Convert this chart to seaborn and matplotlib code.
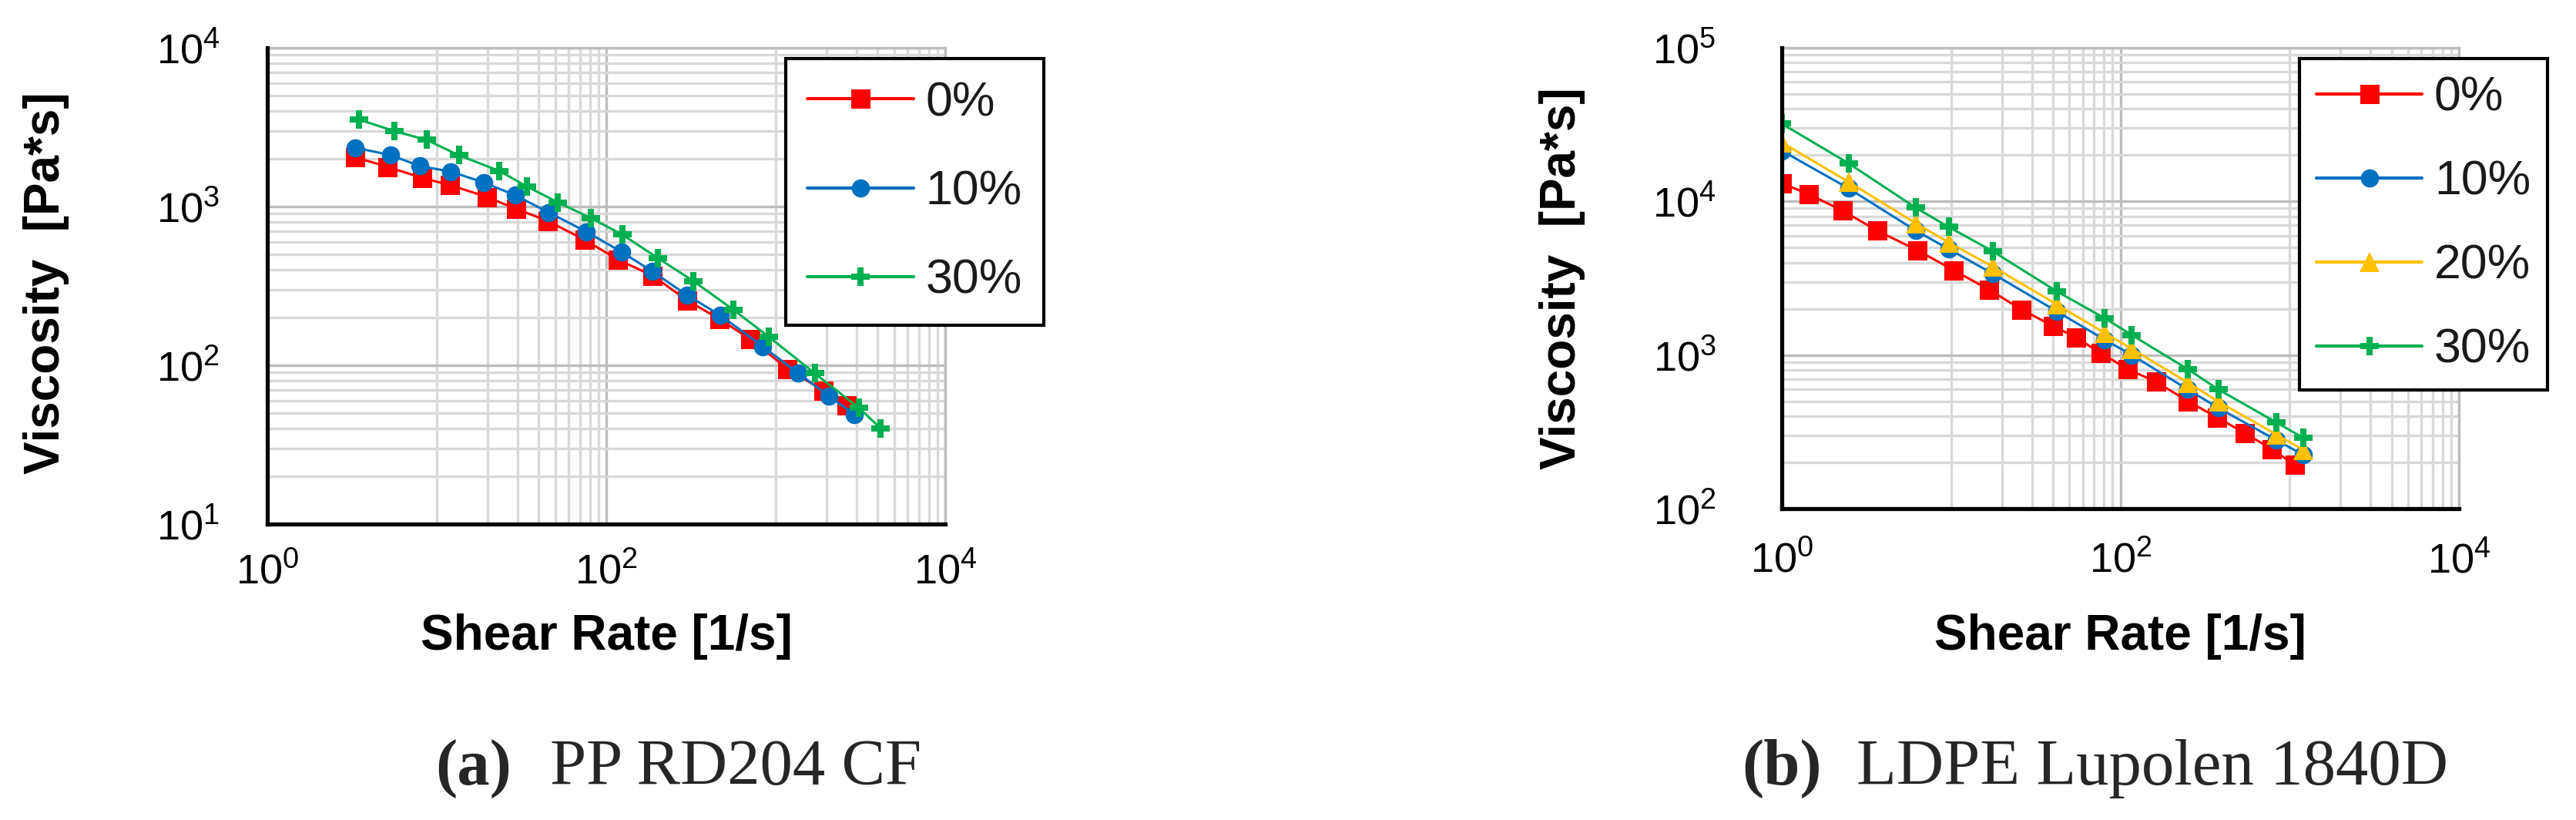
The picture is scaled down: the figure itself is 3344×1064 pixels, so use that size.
import numpy as np
import pandas as pd
import matplotlib
matplotlib.use("Agg")
import matplotlib.pyplot as plt
from matplotlib import font_manager
from matplotlib.lines import Line2D
from matplotlib.ticker import FixedLocator, FixedFormatter, NullFormatter
import seaborn as sns

# ---------------- data ----------------
# (a) PP RD204 CF
pp_rate_0 = [3.31, 5.13, 8.2, 12.0, 19.8, 29.4, 45.0, 74.5, 117.5, 188, 299, 468, 708, 1175, 1923, 2606]
pp_visc_0 = [2042, 1778, 1514, 1365, 1148, 966, 813, 617, 462, 367, 257, 195, 146, 95, 69, 56]
pp_rate_10 = [3.31, 5.31, 7.94, 12.08, 18.9, 29.0, 45.7, 76.2, 123, 188, 299, 473, 841, 1361, 2061, 2917]
pp_visc_10 = [2344, 2113, 1799, 1660, 1419, 1180, 918, 695, 518, 389, 277, 206, 131, 89, 64, 49]
pp_rate_30 = [3.47, 5.62, 8.7, 13.5, 23.4, 33.9, 51.9, 81.3, 124, 202, 327, 562, 912, 1698, 3090, 4169]
pp_visc_30 = [3532, 2985, 2630, 2104, 1675, 1340, 1062, 845, 667, 473, 339, 224, 151, 89, 54, 40]

# (b) LDPE Lupolen 1840D
ldpe_rate_0 = [1.0, 1.45, 2.29, 3.67, 6.31, 10.35, 16.8, 26.0, 39.8, 55.0, 76.7, 111, 162, 251, 372, 543, 785, 1072]
ldpe_visc_0 = [13120, 11120, 8690, 6440, 4810, 3570, 2660, 1980, 1550, 1297, 1028, 807, 671, 500, 393, 310, 244, 193]
ldpe_rate_filled = [1.0, 2.48, 6.18, 9.68, 17.6, 42.0, 80.7, 117, 251, 380, 835, 1205]
ldpe_visc_10 = [21380, 12160, 6460, 4900, 3390, 1928, 1259, 1000, 596, 452, 279, 224]
ldpe_visc_20 = [24210, 13400, 7210, 5410, 3767, 2138, 1393, 1096, 661, 497, 304, 241]
ldpe_visc_30 = [32060, 17700, 9100, 6820, 4740, 2600, 1738, 1349, 807, 596, 364, 289]

labels_pp = ["0%", "10%", "30%"]
labels_ldpe = ["0%", "10%", "20%", "30%"]
x_tick_exps = [0, 2, 4]
y_tick_exps_pp = [1, 2, 3, 4]
y_tick_exps_ldpe = [2, 3, 4, 5]
x_axis_title = "Shear Rate [1/s]"
y_axis_title = "Viscosity  [Pa*s]"
caption_tags = ["(a)", "(b)"]
caption_texts = ["PP RD204 CF", "LDPE Lupolen 1840D"]

# ---------------- styles ----------------
RED, BLUE, YELLOW, GREEN = "#FF0000", "#0070C0", "#FFC000", "#00B050"
series_style = {
    "0%": dict(color=RED, marker="s", ms=18),
    "10%": dict(color=BLUE, marker="o", ms=17),
    "20%": dict(color=YELLOW, marker="^", ms=19),
    "30%": dict(color=GREEN, marker="P", ms=17),
}

sns.set_style("white")
names = {f.name for f in font_manager.fontManager.ttflist}
narrow = "Liberation Sans Narrow" if "Liberation Sans Narrow" in names else "Liberation Sans"
tick_fs = 45 if narrow == "Liberation Sans Narrow" else 39
plt.rcParams["font.family"] = ["Liberation Sans", "DejaVu Sans"]
plt.rcParams["mathtext.fontset"] = "custom"
plt.rcParams["mathtext.rm"] = narrow
plt.rcParams["mathtext.it"] = narrow + ":italic"
plt.rcParams["mathtext.bf"] = narrow + ":bold"

W, H = 3344, 1064
fig = plt.figure(figsize=(W / 100, H / 100), dpi=100)
fig.patch.set_facecolor("white")


def px_axes(l, t, r, b):
    return fig.add_axes([l / W, 1 - b / H, (r - l) / W, (b - t) / H])


def style_axes(ax, y_exps, ypad, xpad):
    ax.set_xscale("log")
    ax.set_yscale("log")
    ax.set_xlim(10 ** x_tick_exps[0], 10 ** x_tick_exps[-1])
    ax.set_ylim(10 ** y_exps[0], 10 ** y_exps[-1])
    ax.xaxis.set_major_locator(FixedLocator([10.0 ** e for e in x_tick_exps]))
    ax.xaxis.set_minor_locator(FixedLocator([10 * k for k in range(1, 10)] + [1000 * k for k in range(1, 10)]))
    ax.xaxis.set_major_formatter(FixedFormatter([r"$\mathregular{10^{%d}}$" % e for e in x_tick_exps]))
    ax.xaxis.set_minor_formatter(NullFormatter())
    ymin = []
    for e in y_exps[:-1]:
        ymin += [k * 10.0 ** e for k in range(2, 10)]
    ax.yaxis.set_major_locator(FixedLocator([10.0 ** e for e in y_exps]))
    ax.yaxis.set_minor_locator(FixedLocator(ymin))
    ax.yaxis.set_major_formatter(FixedFormatter([r"$\mathregular{10^{%d}}$" % e for e in y_exps]))
    ax.yaxis.set_minor_formatter(NullFormatter())
    ax.set_axisbelow(True)
    ax.grid(which="minor", color="#D9D9D9", lw=2.4)
    ax.grid(which="major", color="#BDBDBD", lw=2.4)
    for s in ["left", "bottom"]:
        ax.spines[s].set_color("black")
        ax.spines[s].set_linewidth(3.8)
        ax.spines[s].set_zorder(5)
    for s in ["top", "right"]:
        ax.spines[s].set_color("#BDBDBD")
        ax.spines[s].set_linewidth(2.4)
    ax.tick_params(which="major", direction="inout", length=31, width=2.9, color="black",
                   labelsize=tick_fs, labelcolor="black")
    ax.tick_params(which="minor", direction="inout", length=26, width=2.9, color="black")
    ax.tick_params(axis="y", which="major", pad=ypad)
    ax.tick_params(axis="x", which="major", pad=xpad)
    ax.set_xlabel("")
    ax.set_ylabel("")


def draw(ax, rates, viscs, labels):
    for r, v, lab in zip(rates, viscs, labels):
        st = series_style[lab]
        df = pd.DataFrame({"rate": r, "visc": v})
        sns.lineplot(data=df, x="rate", y="visc", ax=ax, color=st["color"], marker=st["marker"],
                     markersize=st["ms"], markeredgewidth=0, linewidth=2.2, sort=False,
                     estimator=None, legend=False)


def add_legend(labels, x0, y0, spacing, bpad):
    handles = [Line2D([0], [0], color=series_style[l]["color"], lw=3, marker=series_style[l]["marker"],
                      markersize=series_style[l]["ms"], markeredgewidth=0) for l in labels]
    leg = fig.legend(handles, labels, loc="upper left", bbox_to_anchor=(x0 / W, 1 - y0 / H),
                     bbox_transform=fig.transFigure, frameon=True, fancybox=False, edgecolor="black",
                     framealpha=1, fontsize=45, handlelength=2.2, handletextpad=0.25,
                     labelspacing=spacing, borderpad=bpad, borderaxespad=0, labelcolor="#1a1a1a")
    leg.get_frame().set_linewidth(3)
    return leg


# ---------------- panel (a) ----------------
axL = px_axes(347, 62, 1227, 680)
axL.set_xscale("log"); axL.set_yscale("log")
draw(axL, [pp_rate_0, pp_rate_10, pp_rate_30], [pp_visc_0, pp_visc_10, pp_visc_30], labels_pp)
style_axes(axL, y_tick_exps_pp, ypad=29, xpad=11)
add_legend(labels_pp, 1020, 76, spacing=0.9, bpad=0.45)

# ---------------- panel (b) ----------------
axR = px_axes(2313, 62, 3192, 660)
axR.set_xscale("log"); axR.set_yscale("log")
draw(axR, [ldpe_rate_0, ldpe_rate_filled, ldpe_rate_filled, ldpe_rate_filled],
     [ldpe_visc_0, ldpe_visc_10, ldpe_visc_20, ldpe_visc_30], labels_ldpe)
style_axes(axR, y_tick_exps_ldpe, ypad=46, xpad=15)
add_legend(labels_ldpe, 2985, 76, spacing=0.8, bpad=0.35)

# ---------------- axis titles ----------------
for cx, cy in [(60, 367), (2028, 361)]:
    fig.text(cx / W, 1 - cy / H, y_axis_title, rotation=90, ha="center", va="center",
             fontsize=46, fontweight="bold", color="black")
for cx in [787, 2752]:
    fig.text(cx / W, 1 - 826 / H, x_axis_title, ha="center", va="center",
             fontsize=46, fontweight="bold", color="black")

# ---------------- captions ----------------
for tx, lx, tag, txt in [(565, 714, caption_tags[0], caption_texts[0]),
                         (2261, 2410, caption_tags[1], caption_texts[1])]:
    fig.text(tx / W, 1 - 1018 / H, tag, ha="left", va="baseline", fontsize=61,
             fontfamily="Liberation Serif", fontweight="bold")
    fig.text(lx / W, 1 - 1018 / H, txt, ha="left", va="baseline", fontsize=61,
             fontfamily="Liberation Serif")

fig.savefig("out.png", dpi=100, facecolor="white")
